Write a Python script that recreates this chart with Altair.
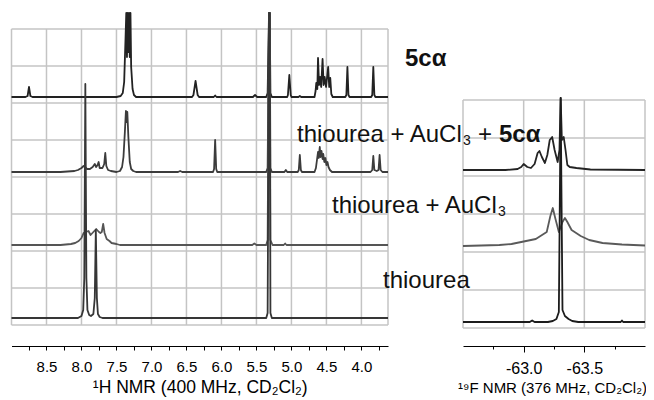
import altair as alt
import pandas as pd

FONT = "Liberation Sans"
MINUS = "\u2212"

# ---------------- 1H NMR panel (left) ----------------
H_DOMAIN = [9.0, 3.62]
H_GRID_X = [9.0, 8.5, 8.0, 7.5, 7.0, 6.5, 6.0, 5.5, 5.0, 4.5, 4.0, 3.62]
H_GRID_Y = [0, 37, 74, 111, 148, 185, 222, 259, 296]
H_TICKS = [8.75, 8.5, 8.25, 8.0, 7.75, 7.5, 7.25, 7.0, 6.75, 6.5, 6.25, 6.0,
           5.75, 5.5, 5.25, 5.0, 4.75, 4.5, 4.25, 4.0, 3.75]
H_TRACES = ["5cα", "thiourea + AuCl3 + 5cα", "thiourea + AuCl3", "thiourea"]
H_OFFSETS = [228, 153, 80, 7]
H_CLIP = 312
H_COLORS = ["#222222", "#3c3c3c", "#555555", "#363636"]

h1_ppm = [9.00, 8.80, 8.77, 8.75, 8.73, 8.70, 7.50, 7.44, 7.41, 7.39, 7.37, 7.36, 7.35,
          7.34, 7.33, 7.32, 7.31, 7.30, 7.29, 7.27, 7.25, 7.22, 6.42, 6.40, 6.37, 6.34,
          6.32, 6.11, 6.09, 6.07, 5.55, 5.52, 5.49, 5.36, 5.34, 5.32, 5.31, 5.30, 5.28,
          5.06, 5.05, 5.03, 5.01, 5.00, 4.90, 4.88, 4.86, 4.67, 4.655, 4.645, 4.63, 4.62,
          4.605, 4.59, 4.575, 4.555, 4.54, 4.525, 4.505, 4.475, 4.46, 4.445, 4.43, 4.41,
          4.23, 4.215, 4.20, 4.185, 4.17, 3.86, 3.845, 3.83, 3.815, 3.80, 3.62]
h1_int = [0, 0, 1, 10, 1, 0, 0, 1, 4, 15, 60, 400, 40, 400, 45, 400, 40, 400, 30, 8, 2, 0,
          0, 2, 16, 2, 0, 0, 1.5, 0, 0, 2, 0, 0, 4, 400, 400, 4, 0,
          0, 2, 22, 2, 0, 0, 1, 0, 0, 6, 14, 8, 39,
          12, 20, 10, 38, 12, 20, 10, 30, 10, 19, 3, 0,
          0, 2, 30, 2, 0, 0, 2, 30, 2, 0, 0]

h2_ppm = [9.00, 8.30, 8.10, 8.05, 8.00, 7.97, 7.95, 7.92, 7.88, 7.84, 7.82, 7.81, 7.79,
          7.77, 7.755, 7.74, 7.70, 7.675, 7.66, 7.645, 7.62, 7.58, 7.50, 7.45, 7.42, 7.40,
          7.38, 7.365, 7.355, 7.345, 7.33, 7.31, 7.29, 7.26, 7.22, 6.62, 6.59, 6.56, 6.12,
          6.105, 6.09, 6.075, 6.06, 5.36, 5.34, 5.32, 5.31, 5.30, 5.28, 5.10, 5.08, 5.06,
          4.91, 4.895, 4.88, 4.865, 4.85, 4.67, 4.65, 4.635, 4.62, 4.61, 4.595, 4.585,
          4.57, 4.555, 4.545, 4.53, 4.515, 4.50, 4.485, 4.47, 4.45, 4.42, 3.87, 3.845,
          3.83, 3.815, 3.78, 3.755, 3.74, 3.725, 3.70, 3.62]
h2_int = [0, 0, 1, 2, 4, 6, 5, 3, 3, 5, 7, 8, 5,
          7, 10, 4, 4, 8, 19, 6, 2, 1, 0, 1, 5, 15,
          40, 61, 50, 60, 35, 10, 3, 1, 0, 0, 1, 0, 0,
          3, 32, 3, 0, 0, 4, 400, 400, 4, 0, 0, 2, 0,
          0, 2, 17, 2, 0, 0, 4, 12, 20, 14, 25, 15,
          21, 13, 18, 10, 14, 7, 10, 5, 2, 0, 0, 2,
          16, 2, 1, 2, 17, 2, 0, 0]

h3_ppm = [9.00, 8.30, 8.15, 8.09, 8.04, 8.00, 7.97, 7.94, 7.90, 7.87, 7.83, 7.79, 7.75,
          7.73, 7.71, 7.69, 7.67, 7.64, 7.60, 7.57, 7.50, 7.45, 5.56, 5.53, 5.50, 5.36,
          5.34, 5.32, 5.31, 5.30, 5.27, 5.11, 5.09, 5.07, 3.62]
h3_int = [0, 0, 1, 2, 4, 7, 12, 13, 14, 10, 13, 16, 13,
          12, 13, 21, 12, 6, 4, 2, 1, 0, 0, 1.5, 0, 0,
          5, 400, 400, 5, 0, 0, 1.5, 0, 0]

h4_ppm = [9.00, 8.05, 8.00, 7.975, 7.96, 7.945, 7.93, 7.915, 7.89, 7.865, 7.83, 7.81,
          7.795, 7.78, 7.765, 7.74, 7.70, 5.36, 5.34, 5.32, 5.31, 5.30, 5.28, 3.62]
h4_int = [0, 0, 2, 8, 40, 234, 40, 8, 3, 2, 4, 20,
          88, 20, 4, 1, 0, 0, 5, 400, 400, 5, 0, 0]

# ---------------- 19F NMR panel (right) ----------------
F_DOMAIN = [-62.5, -64.0]
F_GRID_X = [-62.5, -63.0, -63.5, -64.0]
F_GRID_Y = [0, 38, 76, 114, 152, 190, 228]
F_TICKS = [-62.75, -63.0, -63.25, -63.5, -63.75]
F_TRACES = ["thiourea + AuCl3 + 5cα", "thiourea + AuCl3", "thiourea"]
F_OFFSETS = [158, 82, 6]
F_COLORS = ["#242424", "#5a5a5a", "#1c1c1c"]

f1_ppm = [-62.50, -62.85, -62.95, -62.98, -63.00, -63.03, -63.06, -63.09, -63.115,
          -63.13, -63.15, -63.175, -63.195, -63.215, -63.235, -63.255, -63.28, -63.295,
          -63.305, -63.315, -63.33, -63.345, -63.36, -63.38, -63.435, -63.55, -64.00]
f1_int = [0, 0, 1, 3, 6, 3, 2, 6, 17,
          19, 13, 7, 15, 30, 33, 20, 8, 20,
          72, 30, 33, 20, 5, 3, 2, 0.5, 0]

f2_ppm = [-62.50, -62.80, -62.90, -62.98, -63.10, -63.19, -63.22, -63.24, -63.26,
          -63.29, -63.32, -63.34, -63.36, -63.395, -63.47, -63.54, -63.65, -63.81, -64.00]
f2_int = [0, 1, 2, 4, 7, 14, 30, 38, 28,
          14, 24, 28, 24, 16, 10, 6, 3, 1.5, 0.5]

f3_ppm = [-62.50, -63.05, -63.07, -63.09, -63.20, -63.24, -63.27, -63.29, -63.30,
          -63.305, -63.31, -63.32, -63.34, -63.37, -63.40, -63.45, -63.80, -63.81,
          -63.82, -64.00]
f3_int = [0, 0, 1.5, 0, 0, 1, 3, 10, 150,
          224, 150, 12, 6, 3, 1, 0, 0, 1.5,
          0, 0]


def build(traces, offsets, ppms, ints, clip=None):
    rows = []
    for name, off, pp, ii in zip(traces, offsets, ppms, ints):
        for p, v in zip(pp, ii):
            y = off + v
            if clip is not None:
                y = min(y, clip)
            rows.append({"trace": name, "ppm": p, "y": y})
    return pd.DataFrame(rows)


h_df = build(H_TRACES, H_OFFSETS, [h1_ppm, h2_ppm, h3_ppm, h4_ppm],
             [h1_int, h2_int, h3_int, h4_int], H_CLIP)
f_df = build(F_TRACES, F_OFFSETS, [f1_ppm, f2_ppm, f3_ppm], [f1_int, f2_int, f3_int])

xL = alt.Scale(domain=H_DOMAIN, range=[3.5, 380], nice=False, zero=False)
yL = alt.Scale(domain=[0, 296], range=[317, 21], nice=False, zero=False)
xR = alt.Scale(domain=F_DOMAIN, range=[455, 637], nice=False, zero=False)
yR = alt.Scale(domain=[0, 228], range=[320, 92], nice=False, zero=False)

GRID = "#c4c4c4"

axL = alt.Axis(
    values=H_TICKS, orient="bottom", grid=False,
    labelExpr="abs(datum.value % 0.5) < 0.001 ? format(datum.value, '.1f') : ''",
    tickSize=4, tickColor="black", tickWidth=1, domainColor="black", domainWidth=1,
    labelFont=FONT, labelFontSize=15, labelColor="black", labelPadding=9.5,
    labelOverlap=False, labelFlush=False,
    title="¹H NMR (400 MHz, CD₂Cl₂)", titleFont=FONT, titleFontSize=17.5,
    titleFontWeight="normal", titleColor="black",
    titleBaseline="alphabetic", titleY=46,
)
axR = alt.Axis(
    values=F_TICKS, orient="bottom", grid=False,
    labelExpr="abs(datum.value % 0.5) < 0.001 ? replace(format(datum.value, '.1f'), '"
              + MINUS + "', '-') : ''",
    tickSize={"condition": {"test": "abs(datum.value % 0.5) < 0.001", "value": 6}, "value": 3},
    tickColor="black", tickWidth=1, domainColor="black", domainWidth=1,
    labelFont=FONT, labelFontSize=16, labelColor="black", labelPadding=8,
    labelOverlap=False, labelFlush=False,
    title="¹⁹F NMR (376 MHz, CD₂Cl₂)", titleFont=FONT, titleFontSize=15,
    titleFontWeight="normal", titleColor="black",
    titleBaseline="alphabetic", titleY=46, titleX=544,
)

# grid data
hv = pd.DataFrame({"ppm": H_GRID_X, "y0": 0, "y1": 296})
hh = pd.DataFrame({"y": H_GRID_Y, "ppm": H_DOMAIN[0], "ppm2": H_DOMAIN[1]})
fv = pd.DataFrame({"ppm": F_GRID_X, "y0": 0, "y1": 228})
fh = pd.DataFrame({"y": F_GRID_Y, "ppm": F_DOMAIN[0], "ppm2": F_DOMAIN[1]})


def panel(vdf, hdf, sdf, xs, ys, ax, traces, colors):
    v = alt.Chart(vdf).mark_rule(color=GRID, strokeWidth=1.5).encode(
        x=alt.X("ppm:Q", scale=xs, axis=None),
        y=alt.Y("y0:Q", scale=ys, axis=None), y2="y1:Q")
    h = alt.Chart(hdf).mark_rule(color=GRID, strokeWidth=1.5).encode(
        x=alt.X("ppm:Q", scale=xs, axis=None), x2="ppm2:Q",
        y=alt.Y("y:Q", scale=ys, axis=None))
    s = alt.Chart(sdf).mark_line(strokeWidth=1.8, strokeJoin="round").encode(
        x=alt.X("ppm:Q", scale=xs, axis=ax),
        y=alt.Y("y:Q", scale=ys, axis=None),
        color=alt.Color("trace:N", scale=alt.Scale(domain=traces, range=colors), legend=None),
        detail="trace:N")
    return [v, h, s]


layers = panel(hv, hh, h_df, xL, yL, axL, H_TRACES, H_COLORS) + \
    panel(fv, fh, f_df, xR, yR, axR, F_TRACES, F_COLORS)

# spectrum labels (pieces: text, x, baseline y, size, weight)
LABELS = [
    ("5cα", 397, 58, 24, "bold"),
    ("thiourea + AuCl", 289, 134, 24, "normal"),
    ("3", 455, 137, 14, "normal"),
    ("+", 470, 134, 24, "normal"),
    ("5cα", 491, 134, 24, "bold"),
    ("thiourea + AuCl", 324, 205, 24, "normal"),
    ("3", 490, 208, 14, "normal"),
    ("thiourea", 375, 280, 24, "normal"),
]
for t, x, y, s, w in LABELS:
    layers.append(
        alt.Chart(pd.DataFrame({"t": [t]})).mark_text(
            align="left", baseline="alphabetic", font=FONT, fontSize=s,
            fontWeight=w, color="#111111").encode(
            text="t:N", x=alt.value(x), y=alt.value(y)))

chart = alt.layer(*layers).resolve_scale(
    x="independent", y="independent", color="independent"
).properties(
    width=638, height=338,
    padding={"left": 0, "top": 0, "right": 0, "bottom": 52},
    autosize=alt.AutoSizeParams(type="none"),
).configure_view(strokeWidth=0)

chart.save("out.html", embed_options={"renderer": "svg", "actions": False})
